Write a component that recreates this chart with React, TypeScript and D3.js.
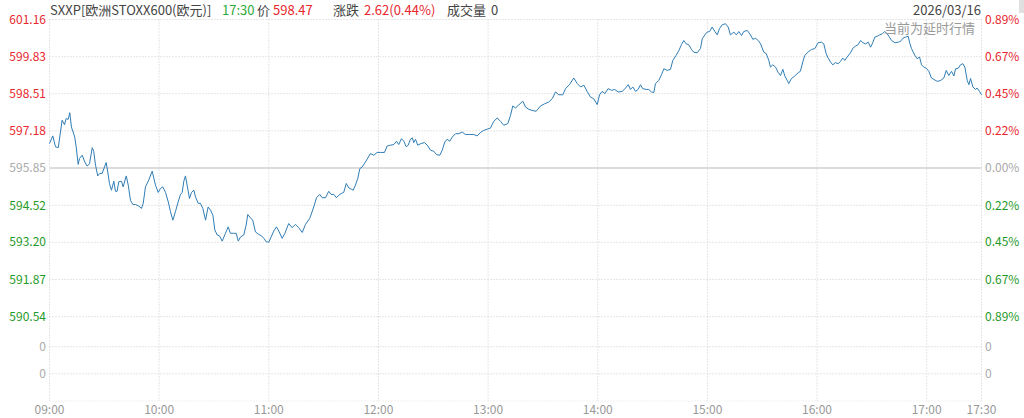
import React from "react";
import * as d3 from "d3";

const W = 1024;
const H = 418;

// minute offset from 09:00, price
const series: [number, number][] = [
[0,596.73],[1.8,597.00],[3.3,596.61],[4.8,596.58],[6.0,597.14],[6.9,597.56],[8.2,597.40],[9.1,597.62],[10.2,597.59],[11.1,597.83],[12.0,597.32],[13.8,596.96],[14.6,596.61],[15.7,595.98],[16.4,596.19],[17.9,596.31],[19.3,596.07],[20.6,595.92],[21.9,596.01],[23.4,596.58],[24.2,596.45],[25.2,595.95],[26.4,595.57],[27.5,595.66],[28.8,595.66],[30.1,595.89],[31.0,596.05],[31.9,595.71],[32.8,595.30],[33.9,595.06],[35.2,595.38],[36.1,595.02],[37.0,595.02],[37.9,595.36],[39.4,595.38],[40.3,595.18],[42.0,595.57],[43.1,595.24],[44.3,594.70],[45.6,594.55],[47.1,594.55],[48.9,594.49],[50.3,594.41],[51.3,594.59],[52.5,595.18],[54.3,595.42],[56.2,595.74],[58.0,595.24],[59.5,594.98],[60.7,595.12],[62.0,595.18],[63.5,594.98],[65.0,594.64],[66.2,594.29],[67.5,593.99],[68.9,594.29],[70.4,594.64],[71.7,594.91],[72.6,594.98],[73.5,595.38],[74.4,595.57],[75.3,595.24],[76.6,594.76],[77.7,594.98],[79.0,595.06],[79.9,594.82],[81.4,594.59],[82.6,594.59],[83.9,594.41],[85.4,593.99],[86.8,594.46],[88.1,594.35],[89.4,594.17],[90.5,593.63],[91.8,593.46],[93.0,593.43],[94.5,593.24],[96.3,593.52],[97.8,593.75],[99.0,593.52],[100.8,593.52],[102.2,593.52],[103.3,593.24],[104.5,593.39],[106.3,593.46],[107.6,593.81],[108.5,594.19],[110.0,594.07],[111.2,593.99],[112.7,593.57],[114.5,593.48],[116.0,593.43],[117.3,593.34],[118.6,593.22],[120.0,593.20],[121.3,593.39],[122.7,593.60],[124.2,593.75],[125.5,593.60],[127.3,593.34],[128.8,593.52],
[130.9,593.87],[132.8,593.72],[134.6,593.84],[136.4,593.72],[138.3,593.55],[140.1,593.84],[142.4,594.05],[144.6,594.46],[146.1,594.79],[147.9,594.91],[149.2,594.79],[151.0,594.79],[152.8,595.02],[154.1,594.91],[155.6,594.91],[157.0,594.79],[158.3,594.88],[159.6,594.94],[161.0,594.98],[162.4,595.30],[163.8,595.14],[165.1,595.10],[166.2,595.06],[167.4,595.24],[168.7,595.48],[169.8,595.83],[171.1,595.89],[172.9,596.07],[174.2,596.21],[175.6,596.37],[177.5,596.31],[179.3,596.41],[181.1,596.41],[183.3,596.41],[184.8,596.64],[186.6,596.67],[188.4,596.69],[189.9,596.81],[191.1,596.69],[192.6,596.90],[193.9,596.81],[195.2,596.61],[196.3,596.67],[197.5,596.88],[198.6,596.93],[199.3,596.76],[200.3,596.88],[201.5,596.67],[203.4,596.73],[205.2,596.76],[206.7,596.67],[208.5,596.49],[210.3,596.45],[211.8,596.33],[213.6,596.31],[214.9,596.49],[216.3,596.78],[217.6,596.88],[219.0,596.81],[220.4,596.96],[222.2,597.08],[224.0,597.08],[225.8,597.14],[227.6,597.05],[230.0,597.05],[232.2,597.05],[234.0,597.00],[235.8,597.12],[237.7,597.20],[239.5,597.24],[241.3,597.28],[243.1,597.52],[245.0,597.64],[246.8,597.52],[248.6,597.38],[250.8,597.44],[252.3,597.74],[253.5,598.07],[255.0,598.00],[256.5,598.09],
[259.0,598.24],[260.5,598.03],[262.3,597.95],[264.1,597.91],[266.3,597.88],[268.7,598.07],[271.0,598.15],[273.2,598.21],[275.1,598.33],[276.9,598.57],[278.7,598.47],[280.9,598.47],[282.4,598.69],[284.5,598.83],[286.9,599.07],[288.8,598.87],[290.6,598.75],[292.4,598.81],[294.2,598.59],[296.0,598.39],[297.8,598.33],[299.7,598.12],[301.0,598.47],[302.4,598.59],[303.9,598.51],[305.7,598.69],[307.5,598.63],[309.3,598.66],[311.2,598.57],[313.4,598.59],[315.2,598.71],[316.7,598.83],[317.9,598.66],[319.2,598.75],[320.7,598.59],[322.1,598.66],[323.4,598.83],[324.6,598.69],[326.5,598.66],[327.9,598.66],[329.4,598.57],[330.7,598.55],[331.6,598.87],[333.4,598.98],[334.9,599.19],[336.2,599.40],[338.0,599.34],[339.8,599.38],[341.1,599.70],[342.9,599.88],[344.4,600.05],[345.8,600.26],[347.1,600.41],[348.4,600.29],[349.8,600.26],[351.3,600.09],[352.6,599.99],[354.4,599.97],[356.2,600.12],[357.2,600.47],[358.6,600.61],[359.9,600.71],[361.2,600.73],[362.6,600.89],[364.1,600.73],[365.4,600.61],[366.6,600.83],[368.1,600.97],[369.9,601.01],[371.4,600.89],[372.6,600.61],[374.5,600.71],[375.8,600.61],[377.2,600.73],[378.7,600.59],[379.9,600.73],[381.8,600.77],[383.6,600.61],[384.9,600.45],[386.3,600.49],[387.8,600.41],[389.1,600.29],
[390.9,599.99],[392.2,599.94],[393.6,599.70],[394.5,599.46],[395.8,599.54],[397.3,599.46],[398.8,599.26],[400.0,599.16],[401.3,599.38],[402.4,599.14],[403.7,598.98],[404.5,598.87],[406.0,599.05],[407.8,599.14],[409.7,599.26],[410.9,599.31],[412.2,599.64],[413.3,599.88],[415.5,600.02],[417.0,600.09],[418.8,600.12],[420.6,600.33],[422.4,600.35],[423.7,600.29],[425.0,599.94],[426.1,599.78],[427.4,599.64],[428.6,599.54],[430.1,599.62],[431.6,599.58],[432.8,599.66],[434.1,599.78],[435.2,599.70],[436.5,599.82],[438.3,599.97],[439.8,600.15],[441.1,600.21],[442.5,600.26],[443.8,600.41],[445.1,600.33],[446.5,600.29],[448.0,600.35],[449.3,600.17],[450.5,600.33],[451.6,600.53],[452.9,600.56],[454.2,600.61],[455.7,600.65],[457.1,600.73],[458.4,600.65],[459.3,600.56],[460.8,600.41],[462.6,600.33],[464.5,600.35],[465.7,600.38],[467.0,600.49],[468.4,600.53],[469.9,600.56],[470.6,600.35],[471.7,600.12],[473.5,599.88],[474.8,599.76],[476.1,599.82],[477.2,599.54],[478.4,599.46],[479.7,599.42],[481.2,599.31],[482.6,599.07],[483.9,599.02],[485.8,598.95],[487.6,598.98],[489.4,599.07],[490.7,599.34],[492.1,599.16],[493.6,599.31],[494.9,599.14],[495.8,599.40],[497.3,599.42],[498.5,599.54],[499.8,599.58],[500.9,599.46],[502.2,598.98],[503.1,598.83],[504.0,599.05],[505.3,598.75],[506.7,598.66],[507.6,598.71],[508.9,598.59],[510,598.47]
];

const prevClose = 595.85;
const priceTicks = [601.16, 599.83, 598.51, 597.18, 595.85, 594.52, 593.20, 591.87, 590.54];
const pctTicks = ["0.89%", "0.67%", "0.45%", "0.22%", "0.00%", "0.22%", "0.45%", "0.67%", "0.89%"];
const volTicks = [1, 2];
const volTickLabels = ["0", "0"];
const timeTickMinutes = [0, 60, 120, 180, 240, 300, 360, 420, 480, 510];
const timeTickLabels = ["09:00", "10:00", "11:00", "12:00", "13:00", "14:00", "15:00", "16:00", "17:00", "17:30"];

const FONT = "'Microsoft YaHei', 'Noto Sans CJK SC', 'Noto Sans', sans-serif";
const RED = "#e8262d";
const GREEN = "#1f9a2a";
const GREY = "#aaaaaa";
const GRID = "#cccccc";

export default function App() {
  const left = 49.5, right = 981.5, top = 19.5, priceBottom = 316.7, volTop = 319.5, bottom = 401;
  const x = d3.scaleLinear().domain([0, 510]).range([left, right]);
  const y = d3.scaleLinear().domain([590.54, 601.16]).range([priceBottom, top]);
  const yv = d3.scaleLinear().domain([0, 3]).range([bottom, volTop]);
  const line = d3.line<[number, number]>().x(d => x(d[0])).y(d => y(d[1]));
  const colorFor = (p: number) => (Math.abs(p - prevClose) < 0.005 ? GREY : p > prevClose ? RED : GREEN);

  return (
    <svg width={W} height={H} style={{ position: "absolute", left: 0, top: 0, background: "#fff" }} fontFamily={FONT}>
      {/* vertical grid */}
      {timeTickMinutes.map((m, i) => (
        <line key={"v" + i} x1={x(m)} x2={x(m)} y1={top} y2={bottom} stroke={GRID} strokeWidth={1} strokeDasharray="1,2" />
      ))}
      {/* horizontal price grid */}
      {priceTicks.map((p, i) =>
        p === prevClose ? null : (
          <line key={"h" + i} x1={left} x2={right} y1={y(p)} y2={y(p)} stroke={GRID} strokeWidth={1} strokeDasharray="1,2" />
        )
      )}
      {/* volume grid */}
      {[0, ...volTicks].map((v, i) => (
        <line key={"vv" + i} x1={left} x2={right} y1={yv(v)} y2={yv(v)} stroke={i === 0 ? "#e2e2e2" : GRID} strokeWidth={1} strokeDasharray="1,2" />
      ))}
      {/* prev close line */}
      <line x1={left} x2={right} y1={y(prevClose)} y2={y(prevClose)} stroke="#dcdcdc" strokeWidth={2} />

      {/* price line */}
      <path d={line(series) || ""} fill="none" stroke="#2f7db5" strokeWidth={1} strokeLinejoin="round" />

      {/* left labels */}
      {priceTicks.map((p, i) => (
        <text key={"l" + i} x={46} y={y(p)} dy="0.35em" textAnchor="end" fontSize={12} fill={colorFor(p)}>
          {p.toFixed(2)}
        </text>
      ))}
      {/* right labels */}
      {pctTicks.map((t, i) => (
        <text key={"r" + i} x={985} y={y(priceTicks[i])} dy="0.35em" textAnchor="start" fontSize={12} fill={colorFor(priceTicks[i])}>
          {t}
        </text>
      ))}
      {volTicks.map((v, i) => (
        <g key={"vl" + i}>
          <text x={46} y={yv(v)} dy="0.35em" textAnchor="end" fontSize={12} fill={GREY}>{volTickLabels[i]}</text>
          <text x={985} y={yv(v)} dy="0.35em" textAnchor="start" fontSize={12} fill={GREY}>{volTickLabels[i]}</text>
        </g>
      ))}
      {/* time labels */}
      {timeTickMinutes.map((m, i) => (
        <text key={"t" + i} x={x(m)} y={410} dy="0.35em" textAnchor="middle" fontSize={12} fill="#999">
          {timeTickLabels[i]}
        </text>
      ))}

      {/* header */}
      <text y={15} fontSize={13} fill="#444">
        <tspan x={50}>SXXP[欧洲STOXX600(欧元)]</tspan>
        <tspan x={222} fill="#2eaa3a">17:30</tspan>
        <tspan x={257}>价</tspan>
        <tspan x={273} fill={RED}>598.47</tspan>
        <tspan x={333}>涨跌</tspan>
        <tspan x={364} fill={RED}>2.62(0.44%)</tspan>
        <tspan x={447}>成交量</tspan>
        <tspan x={491}>0</tspan>
      </text>
      <text x={981} y={15} fontSize={13} fill="#444" textAnchor="end">2026/03/16</text>
      <text x={975} y={33} fontSize={13} fill="#9a9a9a" textAnchor="end">当前为延时行情</text>
      <rect x={1019} y={0} width={5} height={13} fill="#e0e0e0" />
    </svg>
  );
}
